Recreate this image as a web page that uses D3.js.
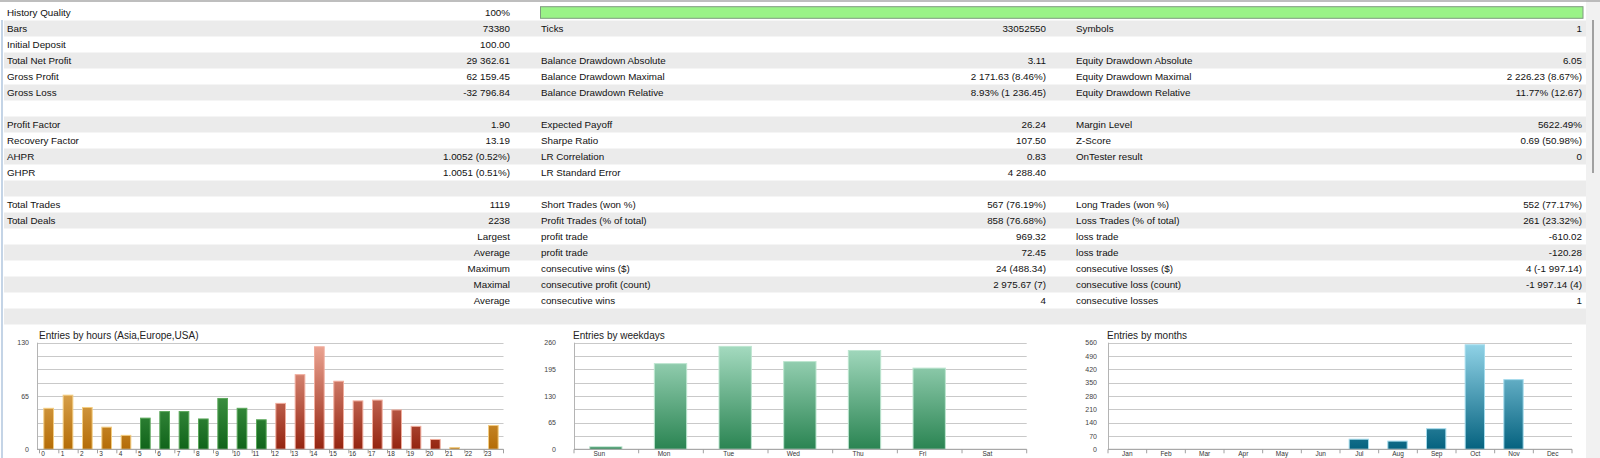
<!DOCTYPE html>
<html><head><meta charset="utf-8">
<script src="https://cdn.jsdelivr.net/npm/d3@7"></script>
<style>html,body{margin:0;padding:0;background:#fff;overflow:hidden}svg{display:block}</style>
</head><body>
<svg id="c" width="1600" height="458"></svg>
<script>
// ---------- report table data ----------
const historyQuality = 100;
const col1Labels = ["History Quality","Bars","Initial Deposit","Total Net Profit","Gross Profit","Gross Loss","","Profit Factor","Recovery Factor","AHPR","GHPR","","Total Trades","Total Deals","","","","",""];
const col1Values = ["100%","73380","100.00","29 362.61","62 159.45","-32 796.84","","1.90","13.19","1.0052 (0.52%)","1.0051 (0.51%)","","1119","2238","Largest","Average","Maximum","Maximal","Average"];
const col2Labels = ["","Ticks","","Balance Drawdown Absolute","Balance Drawdown Maximal","Balance Drawdown Relative","","Expected Payoff","Sharpe Ratio","LR Correlation","LR Standard Error","","Short Trades (won %)","Profit Trades (% of total)","profit trade","profit trade","consecutive wins ($)","consecutive profit (count)","consecutive wins"];
const col2Values = ["","33052550","","3.11","2 171.63 (8.46%)","8.93% (1 236.45)","","26.24","107.50","0.83","4 288.40","","567 (76.19%)","858 (76.68%)","969.32","72.45","24 (488.34)","2 975.67 (7)","4"];
const col3Labels = ["","Symbols","","Equity Drawdown Absolute","Equity Drawdown Maximal","Equity Drawdown Relative","","Margin Level","Z-Score","OnTester result","","","Long Trades (won %)","Loss Trades (% of total)","loss trade","loss trade","consecutive losses ($)","consecutive loss (count)","consecutive losses"];
const col3Values = ["","1","","6.05","2 226.23 (8.67%)","11.77% (12.67)","","5622.49%","0.69 (50.98%)","0","","","552 (77.17%)","261 (23.32%)","-610.02","-120.28","4 (-1 997.14)","-1 997.14 (4)","1"];

// ---------- chart data ----------
const hourLabels = ["0","1","2","3","4","5","6","7","8","9","10","11","12","13","14","15","16","17","18","19","20","21","22","23"];
const hourValues = [50,66,51,27,17,38,46,46,37,62,50,36,56,91,125,83,59,60,48,28,12,2,0,29];
const hourSessions = ["asia","asia","asia","asia","asia","europe","europe","europe","europe","europe","europe","europe","usa","usa","usa","usa","usa","usa","usa","usa","usa","asia","asia","asia"];
const hourTicks = [0,65,130];
const hourGrid = [0,16.25,32.5,48.75,65,81.25,97.5,113.75,130];

const weekdayLabels = ["Sun","Mon","Tue","Wed","Thu","Fri","Sat"];
const weekdayValues = [6,209,251,214,241,198,0];
const weekdayTicks = [0,65,130,195,260];
const weekdayGrid = [0,32.5,65,97.5,130,162.5,195,227.5,260];

const monthLabels = ["Jan","Feb","Mar","Apr","May","Jun","Jul","Aug","Sep","Oct","Nov","Dec"];
const monthValues = [0,0,0,0,0,0,53,43,108,549,366,0];
const monthTicks = [0,70,140,210,280,350,420,490,560];
const monthGrid = [0,70,140,210,280,350,420,490,560];

// ---------- drawing ----------
const W = 1600, H = 458;
const svg = d3.select("#c");
const TF = "'Liberation Sans', Arial, sans-serif";

svg.append("rect").attr("width", W).attr("height", H).attr("fill", "#fff");
svg.append("rect").attr("x", 1586).attr("y", 0).attr("width", W - 1586).attr("height", H).attr("fill", "#f1f1f1");
svg.append("line").attr("x1", 0).attr("x2", W).attr("y1", 1).attr("y2", 1).attr("stroke", "#a8a8a8").attr("stroke-width", 1.5);
svg.append("line").attr("x1", 1593).attr("x2", 1593).attr("y1", 20).attr("y2", 173).attr("stroke", "#8c8c8c").attr("stroke-width", 1.6);
svg.append("line").attr("x1", 2).attr("x2", 2).attr("y1", 20).attr("y2", H).attr("stroke", "#c4d4e6").attr("stroke-width", 2);

const rowIdx = d3.range(20);
const rowY = d3.scaleBand().domain(rowIdx).range([4.5, 324.5]);
svg.append("g").selectAll("rect").data(rowIdx.filter(i => i % 2 === 1)).join("rect")
  .attr("x", 4).attr("y", i => rowY(i)).attr("width", 1586 - 4).attr("height", rowY.bandwidth())
  .attr("fill", "#ebebeb");

// history quality bar
const hq = d3.scaleLinear().domain([0, 100]).range([540.5, 1583]);
svg.append("rect").attr("x", hq(0)).attr("y", rowY(0) + 2.2).attr("width", hq(historyQuality) - hq(0)).attr("height", 11.6)
  .attr("fill", "#9af387").attr("stroke", "#7f9a7f").attr("stroke-width", 1);

const columns = [
  {labels: col1Labels, values: col1Values, lx: 7, vx: 510},
  {labels: col2Labels, values: col2Values, lx: 541, vx: 1046},
  {labels: col3Labels, values: col3Values, lx: 1076, vx: 1582}
];
const tg = svg.append("g").attr("font-family", TF).attr("font-size", "9.8px").attr("fill", "#111");
columns.forEach(c => {
  tg.append("g").selectAll("text").data(c.labels.slice(0, 19)).join("text")
    .attr("x", c.lx).attr("y", (d, i) => rowY(i) + rowY.bandwidth() / 2 + 3.4).text(d => d);
  tg.append("g").selectAll("text").data(c.values.slice(0, 19)).join("text")
    .attr("x", c.vx).attr("y", (d, i) => rowY(i) + rowY.bandwidth() / 2 + 3.4).attr("text-anchor", "end").text(d => d);
});

// gradients
const defs = svg.append("defs");
const plotTop = 342.7, plotBottom = 449.3;
function grad(id, top, bottom) {
  const g = defs.append("linearGradient").attr("id", id).attr("gradientUnits", "userSpaceOnUse")
    .attr("x1", 0).attr("x2", 0).attr("y1", plotTop).attr("y2", plotBottom);
  g.append("stop").attr("offset", "0%").attr("stop-color", top);
  g.append("stop").attr("offset", "100%").attr("stop-color", bottom);
}
grad("g-asia", "#f7d08a", "#b46c06");
grad("g-europe", "#68ba68", "#10641a");
grad("g-usa", "#eea896", "#942410");
grad("g-week", "#a8ddc3", "#2a8452");
grad("g-month", "#92d4e8", "#05627f");
const strokes = {asia: "#f3cc80", europe: "#5aa85a", usa: "#f0ac9c", week: "#bde6d0", month: "#a4dbec"};

function drawChart(cfg) {
  const g = svg.append("g");
  const y = d3.scaleLinear().domain([0, cfg.max]).range([plotBottom, plotTop]);
  const x = d3.scaleBand().domain(cfg.labels).range([cfg.x0, cfg.x1]).paddingInner(0.5).paddingOuter(0.25);
  const step = x.step();
  // gridlines
  g.append("g").selectAll("line").data(cfg.grid).join("line")
    .attr("x1", cfg.axisX).attr("x2", cfg.x1).attr("y1", d => Math.round(y(d)) + 0.5).attr("y2", d => Math.round(y(d)) + 0.5)
    .attr("stroke", "#c9c9c9").attr("stroke-width", 1);
  // y axis line
  g.append("line").attr("x1", cfg.axisX + 0.5).attr("x2", cfg.axisX + 0.5).attr("y1", plotTop).attr("y2", plotBottom)
    .attr("stroke", "#b4b4b4");
  // y labels
  g.append("g").selectAll("text").data(cfg.ticks).join("text")
    .attr("x", cfg.labelRight).attr("y", d => y(d) + 2.6).attr("text-anchor", "end")
    .attr("font-family", TF).attr("font-size", "7px").attr("fill", "#444").text(d => d);
  // title
  g.append("text").attr("x", cfg.titleX).attr("y", 339).attr("font-family", TF).attr("font-size", "10px")
    .attr("fill", "#222").text(cfg.title);
  // bars
  g.append("g").selectAll("rect").data(cfg.values.map((v, i) => ({v, i}))).join("rect")
    .filter(d => d.v > 0)
    .attr("x", d => x(cfg.labels[d.i]) - 0.5).attr("width", x.bandwidth())
    .attr("y", d => y(d.v)).attr("height", d => y(0) - y(d.v))
    .attr("fill", d => "url(#g-" + cfg.group(d.i) + ")")
    .attr("stroke", d => strokes[cfg.group(d.i)]).attr("stroke-width", 1);
  // x axis
  g.append("line").attr("x1", cfg.axisX).attr("x2", cfg.x1).attr("y1", plotBottom).attr("y2", plotBottom)
    .attr("stroke", "#a0a0a0");
  g.append("g").selectAll("line").data(d3.range(cfg.labels.length + 1)).join("line")
    .attr("x1", k => cfg.x0 + k * step).attr("x2", k => cfg.x0 + k * step)
    .attr("y1", plotBottom).attr("y2", plotBottom + 4).attr("stroke", "#a0a0a0");
  g.append("g").selectAll("text").data(cfg.labels).join("text")
    .attr("x", d => x(d) + x.bandwidth() / 2 + cfg.labelShift).attr("y", 456).attr("text-anchor", "middle")
    .attr("font-family", TF).attr("font-size", "6.5px").attr("fill", "#333").text(d => d);
}

drawChart({labels: hourLabels, values: hourValues, group: i => hourSessions[i], max: 130, ticks: hourTicks, grid: hourGrid,
  axisX: 37, x0: 39.5, x1: 503.5, labelRight: 29, titleX: 39, title: "Entries by hours (Asia,Europe,USA)", labelShift: -6});
drawChart({labels: weekdayLabels, values: weekdayValues, group: () => "week", max: 260, ticks: weekdayTicks, grid: weekdayGrid,
  axisX: 574, x0: 574, x1: 1026.7, labelRight: 556, titleX: 573, title: "Entries by weekdays", labelShift: -7});
drawChart({labels: monthLabels, values: monthValues, group: () => "month", max: 560, ticks: monthTicks, grid: monthGrid,
  axisX: 1108, x0: 1108, x1: 1572, labelRight: 1097, titleX: 1107, title: "Entries by months", labelShift: 0});
</script>
</body></html>
